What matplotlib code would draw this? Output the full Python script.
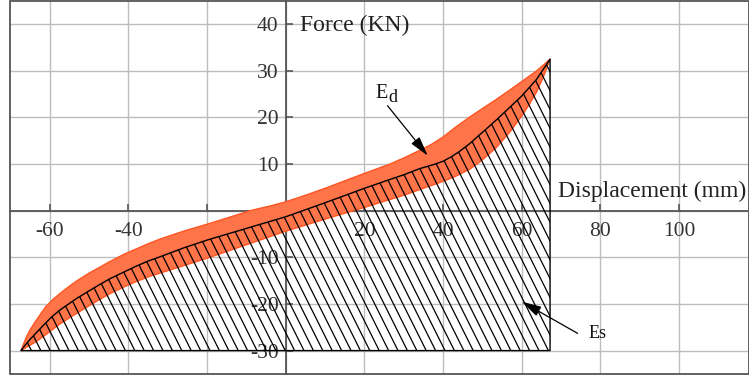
import matplotlib
matplotlib.use('Agg')
import matplotlib.pyplot as plt
import numpy as np
from matplotlib.collections import LineCollection
from matplotlib.patches import Polygon, Rectangle

plt.rcParams['font.family'] = ['Liberation Serif', 'DejaVu Serif']
plt.rcParams['axes.unicode_minus'] = False

# ---------------- data ----------------
# upper boundary of the dissipated-energy band
x_upper = [-67.3, -66.6, -65.8, -65.0, -63.8, -62.5, -61.0, -59.0, -57.0, -55.0, -53.0,
           -50.0, -47.0, -44.7, -41.0, -38.0, -35.0, -32.0, -26.0, -20.0, -15.0, -9.1,
           -4.0, 0.0, 5.0, 10.0, 15.0, 20.0, 26.5, 30.0, 34.0, 37.0, 40.0, 43.0, 46.8,
           50.0, 53.6, 57.0, 60.0, 63.8, 67.2]
y_upper = [-30.0, -28.5, -26.9, -25.6, -24.0, -22.4, -20.6, -18.9, -17.5, -16.2, -15.0,
           -13.4, -12.0, -10.9, -9.3, -8.2, -7.1, -6.1, -4.4, -2.9, -1.6, 0.0,
           1.0, 1.9, 3.3, 4.8, 6.4, 8.0, 10.0, 11.3, 12.9, 14.2, 15.8, 17.8, 20.1,
           21.9, 23.9, 25.9, 27.7, 30.0, 32.5]
# middle (black) curve = top of the strain-energy region
x_mid = [-67.3, -66.3, -65.0, -63.3, -61.5, -59.5, -57.4, -55.0, -53.1, -50.0, -47.0,
         -44.7, -41.0, -38.0, -35.0, -32.0, -26.0, -20.0, -10.0, 0.0, 10.0, 20.0, 26.5,
         30.0, 34.0, 36.0, 38.0, 40.0, 42.0, 44.0, 46.8, 50.0, 53.6, 57.0, 60.0, 63.8,
         67.2]
y_mid = [-30.0, -28.9, -27.6, -26.1, -24.5, -22.8, -21.3, -19.9, -18.8, -17.2, -15.7,
         -14.6, -13.1, -11.9, -10.8, -9.9, -8.0, -6.3, -3.8, -1.3, 1.7, 4.8, 6.7,
         7.7, 9.0, 9.5, 10.0, 10.6, 11.5, 12.6, 14.4, 16.8, 19.5, 22.2, 24.6, 28.2,
         32.5]
# lower boundary of the band
x_lower = [-67.3, -65.5, -63.3, -61.0, -59.0, -57.4, -55.0, -53.1, -50.0, -47.0, -44.7,
           -41.0, -38.0, -35.0, -32.0, -26.0, -20.0, -10.0, 0.0, 10.0, 20.0, 26.5, 30.0,
           34.0, 37.0, 40.0, 43.0, 46.8, 50.0, 53.6, 57.0, 60.0, 62.0, 63.8, 65.5, 67.2]
y_lower = [-30.0, -29.1, -28.0, -26.6, -25.3, -24.3, -23.0, -22.0, -20.4, -18.9, -17.8,
           -16.3, -15.2, -14.2, -13.4, -11.8, -10.2, -7.3, -4.4, -1.8, 0.7, 2.4, 3.3,
           4.5, 5.4, 6.3, 7.3, 8.9, 10.9, 13.6, 16.9, 20.3, 22.9, 25.5, 28.7, 32.5]
y_base = -30.0

x_ticks = [-60, -40, -20, 0, 20, 40, 60, 80, 100]
x_tick_labels = ['-60', '-40', '', '', '20', '40', '60', '80', '100']
y_ticks = [-30, -20, -10, 0, 10, 20, 30, 40]
y_tick_labels = ['-30', '-20', '-10', '', '10', '20', '30', '40']

x_label = 'Displacement (mm)'
y_label = 'Force (KN)'

# ---------------- figure ----------------
W, H = 749, 379
fig = plt.figure(figsize=(W / 100, H / 100), dpi=100)
ax = fig.add_axes([10 / W, 5 / H, 739 / W, 373 / H])
ax.set_xlim(-70.08, 117.77)
ax.set_ylim(-35.02, 44.97)

ax.spines['left'].set_position(('data', 0))
ax.spines['bottom'].set_position(('data', 0))
ax.spines['top'].set_visible(False)
ax.spines['right'].set_visible(False)
for s in ('left', 'bottom'):
    ax.spines[s].set_color('#555555')
    ax.spines[s].set_linewidth(1.3)
    ax.spines[s].set_zorder(1)

ax.add_patch(Rectangle((0, 0), 1, 1, transform=ax.transAxes, fill=False,
                       edgecolor='#555555', lw=1.3, clip_on=False, zorder=6))

ax.set_xticks(x_ticks)
ax.set_xticklabels(x_tick_labels)
ax.set_yticks(y_ticks)
ax.set_yticklabels(y_tick_labels)
ax.tick_params(direction='in', length=5, width=1.2, color='#555555',
               labelsize=15.5, labelcolor='#333333')
ax.tick_params(axis='x', pad=8)
ax.tick_params(axis='y', pad=5)
ax.grid(True, color='#bdbdbd', lw=1.0)
ax.set_axisbelow(True)

# dissipated energy band
band_x = np.concatenate([x_upper, x_lower[::-1]])
band_y = np.concatenate([y_upper, y_lower[::-1]])
ax.fill(band_x, band_y, facecolor='#FF7448', edgecolor='#FF5522', lw=1.0,
        joinstyle='round', zorder=3)

# strain energy region (hatched)
reg_x = list(x_mid) + [x_mid[-1], x_mid[0]]
reg_y = list(y_mid) + [y_base, y_base]
region = Polygon(np.column_stack([reg_x, reg_y]), closed=True, fill=False,
                 edgecolor='black', lw=1.0, joinstyle='round', zorder=5)
ax.add_patch(region)

# hatch lines (steep "\" lines), generated in pixel geometry
fig.canvas.draw()
px_per_x = ax.bbox.width / (ax.get_xlim()[1] - ax.get_xlim()[0])
px_per_y = ax.bbox.height / (ax.get_ylim()[1] - ax.get_ylim()[0])
slope_px = 2.0
spacing_px = 9.4
step = spacing_px / px_per_x
y_top = 40.0
shift = (y_top - y_base) * px_per_y / slope_px / px_per_x
starts = 40.5 + step * np.arange(-60, 40)
segs = [[(x0, y_base), (x0 - shift, y_top)] for x0 in starts]
lc = LineCollection(segs, colors='black', linewidths=0.9, zorder=4)
ax.add_collection(lc)
lc.set_clip_path(region)

# axis labels
ax.text(3.6, 38.6, y_label, fontsize=17, color='#222222', va='baseline', ha='left', zorder=6)
ax.text(69.3, 2.9, x_label, fontsize=17, color='#222222', va='baseline', ha='left', zorder=6)

# annotations
arrow_kw = dict(arrowstyle='-|>,head_length=0.75,head_width=0.2', color='black', lw=0.9,
                mutation_scale=16, shrinkA=0, shrinkB=0)
ax.annotate('', xy=(36.1, 11.8), xytext=(25.9, 22.5), arrowprops=arrow_kw, zorder=7)
e_txt = ax.text(22.7, 24.1, 'E', fontsize=14.5, color='#111111',
                va='baseline', ha='left', zorder=7)
ax.annotate('d', xy=(1.0, 0.0), xycoords=e_txt, xytext=(0.6, -1.7),
            textcoords='offset points', fontsize=13, color='#111111',
            va='bottom', ha='left', zorder=7)

ax.annotate('', xy=(60.0, -19.5), xytext=(74.2, -26.3), arrowprops=arrow_kw, zorder=7)
ax.text(76.9, -26.3, 'Es', fontsize=13, color='#111111', va='center', ha='left', zorder=7)

fig.savefig('out.png', dpi=100)
